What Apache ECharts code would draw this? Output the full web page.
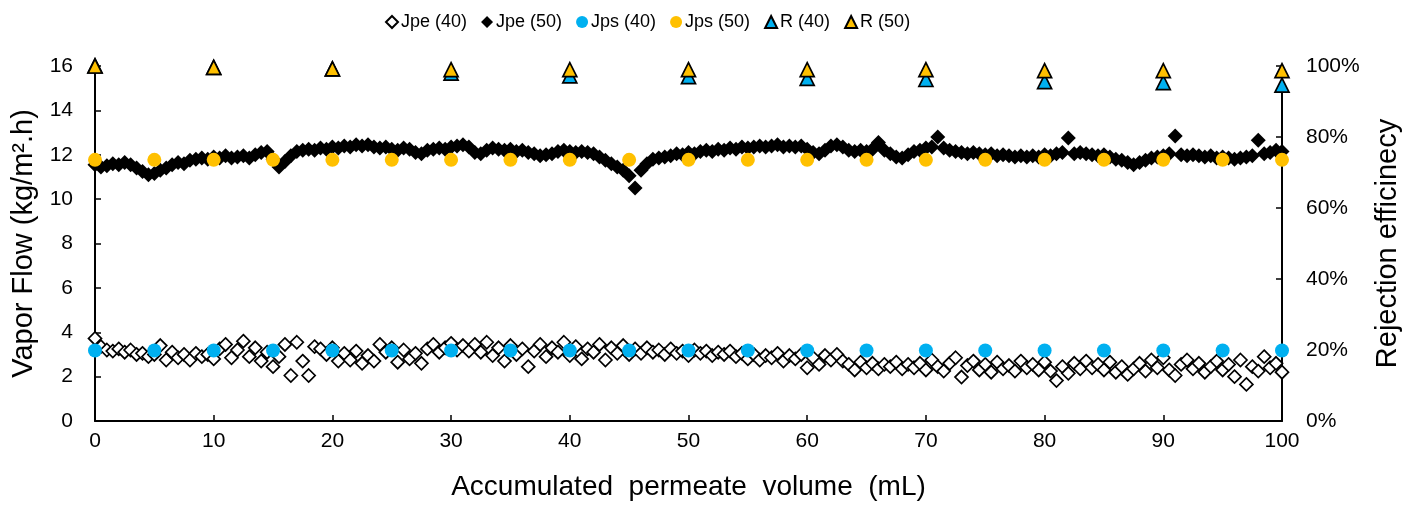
<!DOCTYPE html>
<html>
<head>
<meta charset="utf-8">
<script src="https://cdn.jsdelivr.net/npm/echarts@6/dist/echarts.min.js"></script>
<style>
html,body{margin:0;padding:0;background:#fff;}
#chart{width:1414px;height:506px;}
</style>
</head>
<body>
<div id="chart"></div>
<script>
// ---- data ----
var jpeStep = 0.5; // mL between Jpe measurements (0 ... 100)

var jpe40 = [
  3.72,3.35,3.20,3.15,3.25,3.10,3.20,3.00,3.05,2.90,
  3.00,3.40,2.75,3.10,2.85,3.00,2.75,3.05,2.90,3.00,
  2.80,3.25,3.45,2.85,3.20,3.60,2.90,3.30,2.70,3.10,
  2.45,2.90,3.45,2.05,3.55,2.70,2.05,3.35,3.25,3.00,
  3.30,2.70,3.05,2.75,3.15,2.60,2.95,2.70,3.45,3.10,
  3.30,2.65,3.20,2.80,3.05,2.60,3.25,3.45,3.10,3.30,
  3.50,3.20,3.40,3.15,3.45,3.10,3.55,2.95,3.30,2.70,
  3.40,3.00,3.25,2.45,3.15,3.45,2.90,3.30,3.10,3.55,
  2.95,3.35,2.80,3.25,3.10,3.45,2.75,3.30,3.05,3.40,
  3.00,3.25,3.05,3.30,3.10,3.20,3.00,3.25,3.05,3.15,
  2.95,3.20,3.05,3.15,2.95,3.10,3.00,3.15,2.90,3.05,
  2.80,3.00,2.75,2.95,2.85,3.05,2.70,2.95,2.80,3.00,
  2.40,2.85,2.55,2.95,2.75,3.00,2.70,2.55,2.30,2.65,
  2.40,2.60,2.35,2.55,2.45,2.65,2.35,2.55,2.40,2.60,
  2.30,2.75,2.45,2.25,2.60,2.85,1.98,2.50,2.70,2.30,
  2.55,2.20,2.65,2.35,2.50,2.25,2.70,2.40,2.55,2.30,
  2.65,2.25,1.82,2.45,2.15,2.60,2.35,2.70,2.40,2.55,
  2.30,2.65,2.20,2.45,2.10,2.35,2.60,2.25,2.75,2.40,
  2.85,2.30,2.05,2.55,2.75,2.35,2.60,2.20,2.45,2.70,
  2.30,2.55,2.00,2.75,1.65,2.45,2.25,2.90,2.40,2.60,
  2.20
];

var jpe50 = [
  11.55,11.45,11.50,11.60,11.55,11.65,11.55,11.40,11.25,11.10,
  11.15,11.30,11.40,11.55,11.65,11.60,11.75,11.80,11.85,11.80,
  11.90,11.85,11.95,11.85,11.90,11.95,11.85,12.00,12.10,12.15,
  11.80,11.45,11.70,11.95,12.15,12.20,12.25,12.20,12.30,12.25,
  12.35,12.30,12.40,12.35,12.45,12.40,12.45,12.35,12.30,12.35,
  12.25,12.20,12.30,12.25,12.10,12.05,12.20,12.25,12.30,12.25,
  12.35,12.40,12.45,12.35,12.10,12.05,12.20,12.30,12.25,12.20,
  12.25,12.15,12.20,12.10,12.05,11.95,12.00,12.05,12.15,12.20,
  12.15,12.10,12.15,12.10,12.05,11.90,11.75,11.60,11.45,11.30,
  11.05,10.50,11.30,11.60,11.80,11.85,11.90,11.95,12.05,12.00,
  12.10,12.05,12.15,12.20,12.15,12.25,12.20,12.30,12.25,12.35,
  12.30,12.35,12.40,12.35,12.40,12.45,12.35,12.40,12.35,12.40,
  12.25,12.10,12.05,12.20,12.40,12.45,12.35,12.20,12.15,12.20,
  12.15,12.25,12.55,12.20,12.05,11.90,11.85,12.00,12.15,12.20,
  12.30,12.35,12.80,12.30,12.20,12.15,12.10,12.05,12.10,12.05,
  12.00,12.05,11.95,12.00,11.95,11.90,11.95,11.90,11.95,11.90,
  12.00,11.95,12.05,12.10,12.75,12.05,12.10,12.05,12.00,11.95,
  12.00,11.90,11.80,11.75,11.65,11.55,11.65,11.75,11.85,11.90,
  11.95,12.05,12.85,12.00,11.95,12.00,11.95,11.90,11.95,11.85,
  11.90,11.85,11.80,11.85,11.90,11.95,12.65,12.05,12.10,12.20,
  12.15
];

var jpsVolume = [0,5,10,15,20,25,30,35,40,45,50,55,60,65,70,75,80,85,90,95,100];
var jps40 = [3.18,3.18,3.18,3.18,3.18,3.18,3.18,3.18,3.18,3.18,3.18,3.18,3.18,3.18,3.18,3.18,3.18,3.18,3.18,3.18,3.18];
var jps50 = [11.77,11.77,11.77,11.77,11.77,11.77,11.77,11.77,11.77,11.77,11.77,11.77,11.77,11.77,11.77,11.77,11.77,11.77,11.77,11.77,11.77];

var rVolume = [0,10,20,30,40,50,60,70,80,90,100];
var r40 = [1.000,0.996,0.992,0.980,0.972,0.970,0.965,0.962,0.956,0.953,0.946];
var r50 = [1.000,0.996,0.992,0.990,0.990,0.990,0.990,0.990,0.987,0.987,0.987];

var xTicks = [0,10,20,30,40,50,60,70,80,90,100];
var leftTicks = [0,2,4,6,8,10,12,14,16];
var rightTicks = [0,0.2,0.4,0.6,0.8,1.0];

// ---- build pairs ----
function pairsStep(vals, step){ return vals.map(function(v,i){ return [i*step, v]; }); }
function pairsX(xs, vals){ return vals.map(function(v,i){ return [xs[i], v]; }); }

var FONT = "'Liberation Sans', Arial, sans-serif";
var BLUE = '#00B0F0', YELLOW = '#FFC000';

var chart = echarts.init(document.getElementById('chart'), null, {renderer:'canvas'});
var axisLine = {show:true, lineStyle:{color:'#000', width:2}};
var axisTick = {show:true, inside:true, length:6, lineStyle:{color:'#000', width:1.5}};

chart.setOption({
  backgroundColor:'#fff',
  animation:false,
  textStyle:{fontFamily:FONT},
  legend:{
    left:380, top:8,
    itemWidth:12, itemHeight:12, itemGap:14,
    textStyle:{fontSize:18, color:'#000', fontFamily:FONT, padding:[0,0,0,-2]},
    data:['Jpe (40)','Jpe (50)','Jps (40)','Jps (50)','R (40)','R (50)']
  },
  grid:{left:95, right:132, top:66, bottom:85, containLabel:false},
  xAxis:{
    type:'value', min:xTicks[0], max:xTicks[xTicks.length-1], interval:10,
    name:'Accumulated  permeate  volume  (mL)', nameLocation:'middle', nameGap:52,
    nameTextStyle:{fontSize:28, color:'#000', fontFamily:FONT},
    axisLine:axisLine, axisTick:axisTick,
    axisLabel:{fontSize:21, color:'#000', margin:10, fontFamily:FONT},
    splitLine:{show:false}
  },
  yAxis:[{
    type:'value', min:leftTicks[0], max:leftTicks[leftTicks.length-1], interval:2,
    name:'Vapor Flow (kg/m\u00B2.h)', nameLocation:'middle', nameGap:53, nameRotate:90,
    nameTextStyle:{fontSize:29, color:'#000', fontFamily:FONT},
    axisLine:axisLine, axisTick:axisTick,
    axisLabel:{fontSize:21, color:'#000', margin:22, fontFamily:FONT},
    splitLine:{show:false}
  },{
    type:'value', position:'right', min:rightTicks[0], max:rightTicks[rightTicks.length-1], interval:0.2,
    name:'Rejection efficinecy', nameLocation:'middle', nameGap:91, nameRotate:90,
    nameTextStyle:{fontSize:29, color:'#000', fontFamily:FONT},
    axisLine:axisLine, axisTick:axisTick,
    axisLabel:{fontSize:21, color:'#000', margin:24, fontFamily:FONT,
      formatter:function(v){ return Math.round(v*100)+'%'; }},
    splitLine:{show:false}
  }],
  series:[
    {name:'Jpe (40)', type:'scatter', symbol:'diamond', symbolSize:13, clip:false,
     itemStyle:{color:'#fff', borderColor:'#000', borderWidth:1.7, opacity:1},
     data:pairsStep(jpe40, jpeStep)},
    {name:'Jpe (50)', type:'scatter', symbol:'diamond', symbolSize:15, clip:false,
     itemStyle:{color:'#000', opacity:1},
     data:pairsStep(jpe50, jpeStep)},
    {name:'Jps (40)', type:'scatter', symbol:'circle', symbolSize:14, clip:false,
     itemStyle:{color:BLUE, opacity:1},
     data:pairsX(jpsVolume, jps40)},
    {name:'Jps (50)', type:'scatter', symbol:'circle', symbolSize:14, clip:false,
     itemStyle:{color:YELLOW, opacity:1},
     data:pairsX(jpsVolume, jps50)},
    {name:'R (40)', type:'scatter', yAxisIndex:1, symbol:'triangle', symbolSize:14, clip:false,
     itemStyle:{color:BLUE, borderColor:'#000', borderWidth:1.7, opacity:1},
     data:pairsX(rVolume, r40)},
    {name:'R (50)', type:'scatter', yAxisIndex:1, symbol:'triangle', symbolSize:14, clip:false,
     itemStyle:{color:YELLOW, borderColor:'#000', borderWidth:1.7, opacity:1},
     data:pairsX(rVolume, r50)}
  ]
});
</script>
</body>
</html>
